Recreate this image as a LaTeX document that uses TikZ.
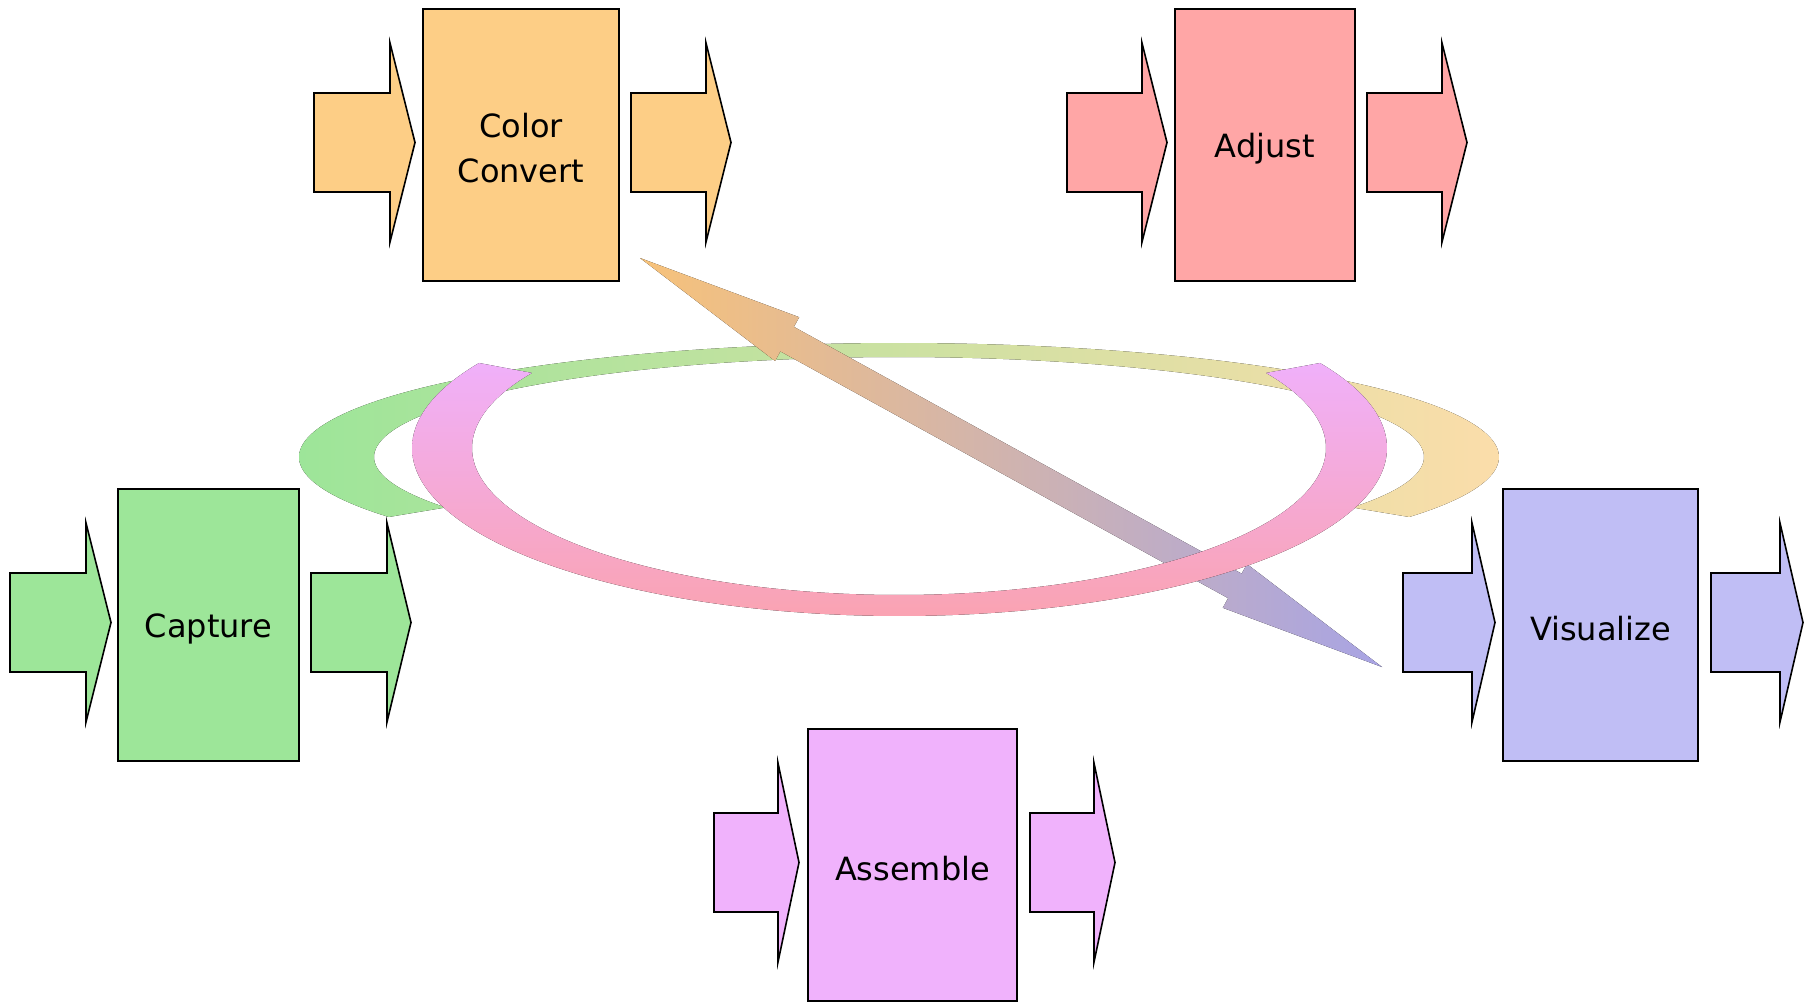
\documentclass[tikz,border=0pt]{standalone}
\usepackage{fontspec}
\setmainfont{DejaVu Sans}
\usetikzlibrary{calc}

% stage colours
\definecolor{convfill}{RGB}{253,206,134}
\definecolor{adjfill}{RGB}{255,166,166}
\definecolor{capfill}{RGB}{157,230,153}
\definecolor{visfill}{RGB}{192,190,245}
\definecolor{asmfill}{RGB}{240,178,252}
% ring and cross-arrow gradients
\definecolor{ringL}{RGB}{157,229,153}
\definecolor{ringR}{RGB}{251,221,170}
\definecolor{loopT}{RGB}{240,176,250}
\definecolor{loopB}{RGB}{250,163,178}
\definecolor{crossL}{RGB}{247,194,122}
\definecolor{crossR}{RGB}{168,164,228}

% block arrow: fill, left x, head base x, tip x, centre y
\newcommand\flowarrow[5]{%
  \draw[arrowshape, fill=#1]
    (#2,#5-49.5) -- (#3,#5-49.5) -- (#3,#5-99.5) -- (#4,#5)
    -- (#3,#5+99.5) -- (#3,#5+49.5) -- (#2,#5+49.5) -- cycle;}

\begin{document}
\begin{tikzpicture}[x=1pt,y=-1pt,
  stagebox/.style={draw=black, line width=2pt, rectangle, inner sep=0pt,
    minimum height=272pt},
  stagetext/.style={inner sep=0pt, align=center, font=\fontsize{32}{45}\selectfont},
  arrowshape/.style={draw=black, line width=1.6pt, line join=miter}]
\useasboundingbox (0,0) rectangle (1805,1002);

% upper ring band (green to yellow)
\fill[left color=ringL, right color=ringR]
  plot[domain=148.25:391.75, samples=160] ({899+600*cos(\x)},{457+114*sin(\x)})
  -- plot[domain=390.3:149.7, samples=160] ({899+525*cos(\x)},{457+100*sin(\x)})
  -- cycle;

% double-headed cross arrow
\coordinate (hA) at (640,258);
\coordinate (hB) at (1382,667);
\coordinate (bA) at ($(hA)!168pt!(hB)$);
\coordinate (bB) at ($(hB)!168pt!(hA)$);
\fill[left color=crossL, right color=crossR]
  (hA) -- ($(bA)!25pt!90:(hB)$) -- ($(bA)!14pt!90:(hB)$)
  -- ($(bB)!14pt!-90:(hA)$) -- ($(bB)!25pt!-90:(hA)$) -- (hB)
  -- ($(bB)!25pt!90:(hA)$) -- ($(bB)!14pt!90:(hA)$)
  -- ($(bA)!14pt!-90:(hB)$) -- ($(bA)!25pt!-90:(hB)$) -- cycle;

% lower loop band (violet to pink)
\fill[top color=loopT, bottom color=loopB]
  plot[domain=210.4:-30.4, samples=180] ({899.5+487.5*cos(\x)},{448+168*sin(\x)})
  -- plot[domain=-30.7:210.7, samples=180] ({899+427*cos(\x)},{448+147*sin(\x)})
  -- cycle;

% stages
\node[stagebox, fill=convfill, minimum width=196pt] (conv) at (521,145) {};
\node[stagebox, fill=adjfill, minimum width=180pt] (adj) at (1265,145) {};
\node[stagebox, fill=capfill, minimum width=181pt] (cap) at (208.5,625) {};
\node[stagebox, fill=visfill, minimum width=195pt] (vis) at (1600.5,625) {};
\node[stagebox, fill=asmfill, minimum width=209pt] (asm) at (912.5,865) {};

\node[stagetext] (conv-t) at ([yshift=-3pt]conv.center) {Color\\Convert};
\node[stagetext] (adj-t) at ([yshift=-4pt]adj.center) {Adjust};
\node[stagetext] (cap-t) at ([yshift=-4pt]cap.center) {Capture};
\node[stagetext] (vis-t) at ([yshift=-4pt]vis.center) {Visualize};
\node[stagetext] (asm-t) at ([yshift=-4pt]asm.center) {Assemble};

% input and output arrows of each stage
\flowarrow{convfill}{314}{390}{415}{142.5}
\flowarrow{convfill}{631}{706}{731}{142.5}
\flowarrow{adjfill}{1067}{1142}{1167}{142.5}
\flowarrow{adjfill}{1367}{1442}{1467}{142.5}
\flowarrow{capfill}{10}{86}{111}{622.5}
\flowarrow{capfill}{311}{387}{411}{622.5}
\flowarrow{visfill}{1403}{1472}{1495}{622.5}
\flowarrow{visfill}{1711}{1780}{1803}{622.5}
\flowarrow{asmfill}{714}{778}{799}{862.5}
\flowarrow{asmfill}{1030}{1094}{1115}{862.5}
\end{tikzpicture}
\end{document}
